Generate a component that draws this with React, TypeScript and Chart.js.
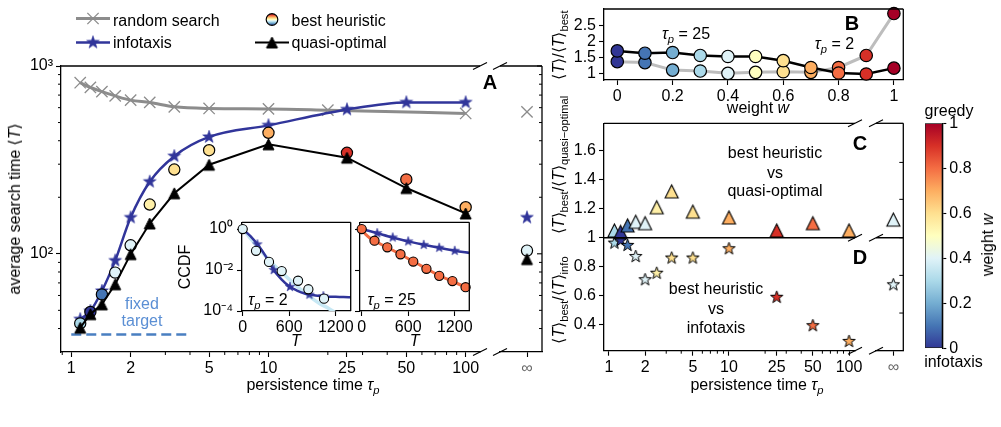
import React, { useEffect, useRef } from 'react';
import { Chart, registerables } from 'chart.js';

Chart.register(...registerables);

const FONT = '"Liberation Sans", Arial, Helvetica, sans-serif';
const FIG_W = 1001;
const FIG_H = 427;

const NAVY = '#31359a';
const GRAY = '#8c8c8c';
const FIXED_BLUE = '#4a7fc1';

// ---------- Panel A: average search time vs persistence time ----------
const TAU = [1.11, 1.25, 1.43, 1.67, 2, 2.5, 3.33, 5, 10, 25, 50, 100];
const T_INFOTAXIS = [44.8, 49.6, 63.4, 92, 156, 242, 331, 419, 483, 587, 640, 640];
const T_BEST = [42.6, 49, 60.8, 79.4, 111, 183, 281, 356, 441, 345, 249, 177];
const T_QUASI = [40.4, 47.7, 53.8, 68.8, 99.6, 145, 210, 298, 383, 325, 224, 164];
const W_BEST = [0.3, 0, 0.1, 0.4, 0.4, 0.55, 0.6, 0.6, 0.7, 0.9, 0.8, 0.7];
const TAU_RANDOM = [1.11, 1.25, 1.43, 1.67, 2, 2.5, 3.33, 5, 10, 20, 100];
const T_RANDOM = [815, 769, 730, 693, 658, 640, 606, 594, 591, 582, 559];
const FIXED_TAU = [1, 4];
const FIXED_T = [37.2, 37.2];

// infinite persistence time (drawn on its own short axis)
const INF = 0;
const T_RANDOM_INF = 570;
const T_INFOTAXIS_INF = 156;
const T_BEST_INF = 104;
const T_QUASI_INF = 93.7;
const W_BEST_INF = 0.4;

const A_X_TICKS = [1, 2, 5, 10, 25, 50, 100];
const A_X_MINOR = [0.9, 3, 4, 6, 7, 8, 9, 20, 30, 40, 60, 70, 80, 90];
const A_Y_TICKS = [100, 1000];
const A_Y_MINOR = [40, 50, 60, 70, 80, 90, 200, 300, 400, 500, 600, 700, 800, 900];

// ---------- Insets: CCDF of search time ----------
const CCDF_X_TICKS = [0, 600, 1200];
const CCDF_Y_TICKS = [1e-4, 1e-2, 1];

const CCDF2_T = [0, 100, 200, 300, 400, 500, 600, 700, 800, 900, 1000, 1100, 1200, 1300, 1400];
const CCDF2_INFO = [1, 0.45, 0.16, 0.045, 0.01, 3.5e-3, 1.6e-3, 1.0e-3, 7.1e-4, 6.0e-4, 5.4e-4, 5.0e-4, 4.9e-4, 4.8e-4, 4.7e-4];
const CCDF2_BEST_LINE = [1, 0.35, 0.126, 0.045, 0.018, 7.9e-3, 3.5e-3, 1.6e-3, 7.9e-4, 4.0e-4, 2.2e-4, 1.4e-4, 8e-5, 4.5e-5, 2.5e-5];
const CCDF2_STAR_T = [190, 400, 610, 860, 1040];
const CCDF2_STAR = [0.18, 0.01, 1.5e-3, 6.3e-4, 5.3e-4];
const CCDF2_DOT_T = [0, 172, 339, 503, 714, 847, 1049];
const CCDF2_DOT = [1, 0.087, 0.025, 8.9e-3, 3.0e-3, 1.15e-3, 4.0e-4];

const CCDF25_T = [0, 100, 200, 400, 600, 800, 1000, 1200, 1400];
const CCDF25_INFO = [1, 0.8, 0.63, 0.39, 0.25, 0.17, 0.123, 0.087, 0.068];
const CCDF25_STAR_T = [200, 400, 600, 800, 1000, 1200];
const CCDF25_STAR = [0.63, 0.39, 0.25, 0.17, 0.123, 0.087];
const CCDF25_BEST_T = [0, 50, 100, 165, 330, 500, 665, 835, 1000, 1170, 1340, 1400];
const CCDF25_BEST = [1, 0.56, 0.38, 0.27, 0.126, 0.059, 0.026, 0.0117, 5.4e-3, 2.8e-3, 1.45e-3, 1.1e-3];
const CCDF25_DOT_T = [0, 165, 330, 500, 665, 835, 1000, 1170, 1340];
const CCDF25_DOT = [1, 0.27, 0.129, 0.059, 0.026, 0.0115, 5.2e-3, 2.9e-3, 1.45e-3];

// ---------- Panel B: ratio vs weight ----------
const WEIGHTS = [0, 0.1, 0.2, 0.3, 0.4, 0.5, 0.6, 0.7, 0.8, 0.9, 1];
const RATIO_W_TAU25 = [1.71, 1.64, 1.66, 1.57, 1.54, 1.54, 1.41, 1.2, 1.03, 1.0, 1.18];
const RATIO_W_TAU2 = [1.38, 1.35, 1.12, 1.09, 1.02, 1.05, 1.07, 1.05, 1.2, 1.57, 2.86];
const B_X_TICKS = [0, 0.2, 0.4, 0.6, 0.8, 1];
const B_Y_TICKS = [1, 1.5, 2, 2.5];

// ---------- Panels C and D: best heuristic ratios ----------
const RATIO_QUASI = [1.05, 1.04, 1.085, 1.11, 1.1, 1.21, 1.32, 1.18, 1.14, 1.05, 1.1, 1.05];
const RATIO_QUASI_INF = 1.125;
const RATIO_INFO = [0.963, 0.98, 0.947, 0.87, 0.71, 0.755, 0.86, 0.86, 0.924, 0.589, 0.393, 0.284];
const RATIO_INFO_INF = 0.675;
const CD_Y_TICKS = [0.4, 0.6, 0.8, 1, 1.2, 1.4, 1.6];
const CD_INF_TICKS = [0.48, 0.74, 1.0, 1.265, 1.52];

// ---------- colour bar ----------
const CB_TICKS = [0, 0.2, 0.4, 0.6, 0.8, 1];

// RdYlBu reversed
const RDYLBU_R = ['#313695', '#4575b4', '#74add1', '#abd9e9', '#e0f3f8', '#ffffbf', '#fee090', '#fdae61', '#f46d43', '#d73027', '#a50026'];

function hexRgb(h: string): number[] {
  return [1, 3, 5].map((i) => parseInt(h.slice(i, i + 2), 16));
}
function weightColor(w: number): string {
  const t = Math.max(0, Math.min(1, w)) * (RDYLBU_R.length - 1);
  const i = Math.min(Math.floor(t), RDYLBU_R.length - 2);
  const f = t - i;
  const a = hexRgb(RDYLBU_R[i]);
  const b = hexRgb(RDYLBU_R[i + 1]);
  const c = a.map((v, k) => Math.round(v + (b[k] - v) * f));
  return `rgb(${c[0]},${c[1]},${c[2]})`;
}

// ---------- marker images ----------
const markerCache = new Map<string, HTMLCanvasElement>();
function marker(shape: 'star' | 'tri', fill: string, edge: string, size: number, lw: number): HTMLCanvasElement {
  const key = [shape, fill, edge, size, lw].join('|');
  const hit = markerCache.get(key);
  if (hit) return hit;
  const pad = Math.ceil(lw) + 2;
  const dim = Math.ceil(size) + 2 * pad;
  const c = document.createElement('canvas');
  c.width = dim;
  c.height = dim;
  const g = c.getContext('2d')!;
  const cx = dim / 2;
  const cy = dim / 2;
  const h = size / 2;
  g.beginPath();
  if (shape === 'star') {
    for (let k = 0; k < 10; k++) {
      const r = k % 2 === 0 ? h : h * 0.4;
      const a = -Math.PI / 2 + (k * Math.PI) / 5;
      const px = cx + r * Math.cos(a);
      const py = cy + r * Math.sin(a);
      if (k === 0) g.moveTo(px, py);
      else g.lineTo(px, py);
    }
  } else {
    g.moveTo(cx, cy - h);
    g.lineTo(cx + h, cy + h);
    g.lineTo(cx - h, cy + h);
  }
  g.closePath();
  g.fillStyle = fill;
  g.fill();
  if (lw > 0) {
    g.lineWidth = lw;
    g.strokeStyle = edge;
    g.lineJoin = 'miter';
    g.stroke();
  }
  markerCache.set(key, c);
  return c;
}

const pts = (xs: number[], ys: number[]) => xs.map((x, i) => ({ x, y: ys[i] }));

// ---------- layout helpers ----------
type Box = { l: number; t: number; r: number; b: number };
const A_BOX: Box = { l: 61, t: 66, r: 480, b: 352 };
const A_INF_BOX: Box = { l: 500, t: 66, r: 542, b: 352 };
const INSET2_BOX: Box = { l: 242, t: 222.3, r: 350.7, b: 311 };
const INSET25_BOX: Box = { l: 360, t: 222.3, r: 469.3, b: 311 };
const B_BOX: Box = { l: 604, t: 9, r: 903.3, b: 80 };
const CD_BOX: Box = { l: 604, t: 123.3, r: 855, b: 350.7 };
const CD_INF_BOX: Box = { l: 876, t: 123.3, r: 903.3, b: 350.7 };
const CB_BOX: Box = { l: 925, t: 123.3, r: 942.3, b: 348.3 };

function frame(box: Box, reserve: { left?: number; right?: number; bottom?: number }) {
  return {
    responsive: false,
    animation: false as const,
    devicePixelRatio: 1,
    events: [] as any[],
    layout: {
      padding: {
        left: box.l - (reserve.left ?? 0),
        top: box.t,
        right: FIG_W - box.r - (reserve.right ?? 0),
        bottom: FIG_H - box.b - (reserve.bottom ?? 0),
      },
    },
    plugins: { legend: { display: false }, tooltip: { enabled: false } },
  };
}

type AxisSpec = {
  type: 'linear' | 'logarithmic';
  min: number;
  max: number;
  ticks: number[];
  label?: (v: number) => string;
  size: number;
  position: 'left' | 'right' | 'bottom';
  tickLength?: number;
  padding?: number;
  color?: string;
};
function axis(s: AxisSpec) {
  const horizontal = s.position === 'bottom';
  return {
    type: s.type,
    min: s.min,
    max: s.max,
    bounds: 'data',
    position: s.position,
    border: { display: true, color: '#000', width: 1.3 },
    grid: { display: true, drawOnChartArea: false, drawTicks: true, tickLength: s.tickLength ?? 5, tickColor: '#000', tickWidth: 1.1 },
    ticks: {
      autoSkip: false,
      maxRotation: 0,
      minRotation: 0,
      padding: s.padding ?? 3,
      color: s.color ?? '#000',
      font: { family: FONT, size: 16 },
      callback: (v: number) => (s.label ? s.label(v) : String(v)),
    },
    afterBuildTicks: (sc: any) => {
      sc.ticks = s.ticks.map((v) => ({ value: v }));
    },
    afterFit: (sc: any) => {
      if (horizontal) {
        sc.height = s.size;
        sc.paddingLeft = 0;
        sc.paddingRight = 0;
      } else {
        sc.width = s.size;
        sc.paddingTop = 0;
        sc.paddingBottom = 0;
      }
    },
  };
}

function seg(ctx: CanvasRenderingContext2D, x1: number, y1: number, x2: number, y2: number, w = 1.3, color = '#000') {
  ctx.beginPath();
  ctx.moveTo(x1, y1);
  ctx.lineTo(x2, y2);
  ctx.lineWidth = w;
  ctx.strokeStyle = color;
  ctx.stroke();
}
function breakMark(ctx: CanvasRenderingContext2D, x: number, y: number) {
  seg(ctx, x - 7, y + 3.5, x + 7, y - 3.5, 1.2);
}
const decor = (fn: (chart: any, ctx: CanvasRenderingContext2D) => void) => ({
  id: 'decor',
  afterDraw(chart: any) {
    const ctx = chart.ctx as CanvasRenderingContext2D;
    ctx.save();
    fn(chart, ctx);
    ctx.restore();
  },
});

const SUP: Record<string, string> = { '0': '\u2070', '2': '\u00B2', '3': '\u00B3', '4': '\u2074', '-': '\u207B' };
const pow10 = (v: number) => '10' + String(Math.round(Math.log10(v))).split('').map((c) => (c === '-' ? '\u207B' : SUP[c])).join('');

// ---------- chart builders ----------
function searchTimeChart() {
  const circleColors = W_BEST.map(weightColor);
  return {
    type: 'line',
    data: {
      datasets: [
        {
          label: 'quasi-optimal', data: pts(TAU, T_QUASI), borderColor: '#000', borderWidth: 2,
          pointStyle: marker('tri', '#000', '#000', 11, 1), pointRadius: 6, tension: 0, order: 0, clip: false,
        },
        {
          label: 'best heuristic', data: pts(TAU, T_BEST), showLine: false, pointStyle: 'circle', pointRadius: 5.6,
          pointBackgroundColor: circleColors, pointBorderColor: '#000', pointBorderWidth: 1.2, order: 1, clip: false,
        },
        {
          label: 'infotaxis', data: pts(TAU, T_INFOTAXIS), borderColor: NAVY, borderWidth: 2.5,
          pointStyle: marker('star', NAVY, NAVY, 13.4, 0.6), pointRadius: 6, cubicInterpolationMode: 'monotone', order: 2, clip: false,
        },
        {
          label: 'random search', data: pts(TAU_RANDOM, T_RANDOM), borderColor: GRAY, borderWidth: 3,
          pointStyle: 'crossRot', pointRadius: 8, pointBorderColor: GRAY, pointBorderWidth: 1.3,
          cubicInterpolationMode: 'monotone', order: 3, clip: false,
        },
        {
          label: 'fixed target', data: pts(FIXED_TAU, FIXED_T), borderColor: FIXED_BLUE, borderWidth: 2.5,
          borderDash: [10, 5], pointRadius: 0, order: 4,
        },
      ],
    },
    options: {
      ...frame(A_BOX, { left: 45, bottom: 30 }),
      scales: {
        x: axis({ type: 'logarithmic', min: 0.887, max: 118.2, ticks: A_X_TICKS, size: 30, position: 'bottom', padding: 2 }),
        y: axis({ type: 'logarithmic', min: 30, max: 1000, ticks: A_Y_TICKS, label: pow10, size: 45, position: 'left' }),
      },
    },
    plugins: [
      decor((chart, ctx) => {
        const ca = chart.chartArea;
        const xs = chart.scales.x;
        const ys = chart.scales.y;
        seg(ctx, ca.left, ca.top, ca.right, ca.top);
        breakMark(ctx, ca.right, ca.top);
        breakMark(ctx, ca.right, ca.bottom);
        for (const v of A_X_MINOR) {
          const x = xs.getPixelForValue(v);
          seg(ctx, x, ca.bottom, x, ca.bottom + 3, 1);
        }
        for (const v of A_Y_MINOR) {
          const y = ys.getPixelForValue(v);
          seg(ctx, ca.left - 3, y, ca.left, y, 1);
        }
        // legend glyphs
        seg(ctx, 76, 18.5, 110, 18.5, 3, GRAY);
        const d = 8 * Math.SQRT1_2;
        seg(ctx, 93 - d, 18.5 - d, 93 + d, 18.5 + d, 1.3, GRAY);
        seg(ctx, 93 - d, 18.5 + d, 93 + d, 18.5 - d, 1.3, GRAY);
        seg(ctx, 76, 42.5, 110, 42.5, 2.5, NAVY);
        const st = marker('star', NAVY, NAVY, 13.4, 0.6);
        ctx.drawImage(st, 93 - st.width / 2, 42.5 - st.height / 2);
        const grad = ctx.createLinearGradient(0, 13.5, 0, 25.5);
        RDYLBU_R.slice().reverse().forEach((c, i) => grad.addColorStop(i / (RDYLBU_R.length - 1), c));
        ctx.beginPath();
        ctx.arc(272, 19.5, 5.8, 0, Math.PI * 2);
        ctx.fillStyle = grad;
        ctx.fill();
        ctx.lineWidth = 1.2;
        ctx.strokeStyle = '#000';
        ctx.stroke();
        seg(ctx, 255, 42.5, 289, 42.5, 2, '#000');
        const tr = marker('tri', '#000', '#000', 11, 1);
        ctx.drawImage(tr, 272 - tr.width / 2, 42.5 - tr.height / 2);
      }),
    ],
  };
}

function searchTimeInfChart() {
  return {
    type: 'scatter',
    data: {
      datasets: [
        { data: [{ x: INF, y: T_QUASI_INF }], pointStyle: marker('tri', '#000', '#000', 11, 1), pointRadius: 6, order: 0, clip: false },
        {
          data: [{ x: INF, y: T_BEST_INF }], pointStyle: 'circle', pointRadius: 5.6, pointBackgroundColor: weightColor(W_BEST_INF),
          pointBorderColor: '#000', pointBorderWidth: 1.2, order: 1, clip: false,
        },
        { data: [{ x: INF, y: T_INFOTAXIS_INF }], pointStyle: marker('star', NAVY, NAVY, 13.4, 0.6), pointRadius: 6, order: 2, clip: false },
        {
          data: [{ x: INF, y: T_RANDOM_INF }], pointStyle: 'crossRot', pointRadius: 8, pointBorderColor: GRAY,
          pointBorderWidth: 1.3, order: 3, clip: false,
        },
      ],
    },
    options: {
      ...frame(A_INF_BOX, { bottom: 30 }),
      scales: {
        x: axis({ type: 'linear', min: -1.8, max: 1, ticks: [INF], label: () => '\u221E', size: 30, position: 'bottom', padding: 2, color: '#666' }),
        y: { type: 'logarithmic', min: 30, max: 1000, display: false },
      },
    },
    plugins: [
      decor((chart, ctx) => {
        const ca = chart.chartArea;
        const ys = chart.scales.y;
        seg(ctx, ca.left, ca.top, ca.right, ca.top);
        seg(ctx, ca.right, ca.top, ca.right, ca.bottom);
        breakMark(ctx, ca.left, ca.top);
        breakMark(ctx, ca.left, ca.bottom);
        for (const v of A_Y_TICKS) {
          const y = ys.getPixelForValue(v);
          seg(ctx, ca.right - 5, y, ca.right, y, 1.1);
        }
        for (const v of A_Y_MINOR) {
          const y = ys.getPixelForValue(v);
          seg(ctx, ca.right - 3, y, ca.right, y, 1);
        }
      }),
    ],
  };
}

const boxDecor = decor((chart, ctx) => {
  const ca = chart.chartArea;
  seg(ctx, ca.left, ca.top, ca.right, ca.top);
  seg(ctx, ca.right, ca.top, ca.right, ca.bottom);
});

function ccdfTau2Chart() {
  const dot = weightColor(0.4);
  return {
    type: 'line',
    data: {
      datasets: [
        {
          data: pts(CCDF2_DOT_T, CCDF2_DOT), showLine: false, pointStyle: 'circle', pointRadius: 4.6,
          pointBackgroundColor: dot, pointBorderColor: '#000', pointBorderWidth: 1.1, order: 0, clip: false,
        },
        { data: pts(CCDF2_STAR_T, CCDF2_STAR), showLine: false, pointStyle: marker('star', NAVY, NAVY, 10, 0.5), pointRadius: 5, order: 1, clip: false },
        { data: pts(CCDF2_T, CCDF2_INFO), borderColor: NAVY, borderWidth: 2.5, pointRadius: 0, cubicInterpolationMode: 'monotone', order: 2 },
        { data: pts(CCDF2_T, CCDF2_BEST_LINE), borderColor: '#c7e8f4', borderWidth: 3.5, pointRadius: 0, cubicInterpolationMode: 'monotone', order: 3 },
      ],
    },
    options: {
      ...frame(INSET2_BOX, { left: 45, bottom: 25 }),
      scales: {
        x: axis({ type: 'linear', min: -9, max: 1393, ticks: CCDF_X_TICKS, size: 25, position: 'bottom', padding: 2 }),
        y: axis({ type: 'logarithmic', min: 1e-4, max: 2.14, ticks: CCDF_Y_TICKS, label: pow10, size: 45, position: 'left', padding: 4 }),
      },
    },
    plugins: [boxDecor],
  };
}

function ccdfTau25Chart() {
  const dot = '#f46d43';
  return {
    type: 'line',
    data: {
      datasets: [
        {
          data: pts(CCDF25_DOT_T, CCDF25_DOT), showLine: false, pointStyle: 'circle', pointRadius: 4.6,
          pointBackgroundColor: dot, pointBorderColor: '#000', pointBorderWidth: 1.1, order: 0, clip: false,
        },
        { data: pts(CCDF25_BEST_T, CCDF25_BEST), borderColor: '#f26b43', borderWidth: 3, pointRadius: 0, cubicInterpolationMode: 'monotone', order: 1 },
        { data: pts(CCDF25_STAR_T, CCDF25_STAR), showLine: false, pointStyle: marker('star', NAVY, NAVY, 10, 0.5), pointRadius: 5, order: 2, clip: false },
        { data: pts(CCDF25_T, CCDF25_INFO), borderColor: NAVY, borderWidth: 2.5, pointRadius: 0, cubicInterpolationMode: 'monotone', order: 3 },
      ],
    },
    options: {
      ...frame(INSET25_BOX, { left: 5, bottom: 25 }),
      scales: {
        x: axis({ type: 'linear', min: -22, max: 1388, ticks: CCDF_X_TICKS, size: 25, position: 'bottom', padding: 2 }),
        y: axis({ type: 'logarithmic', min: 1e-4, max: 2.14, ticks: CCDF_Y_TICKS, label: () => '', size: 5, position: 'left', padding: 0 }),
      },
    },
    plugins: [boxDecor],
  };
}

function weightChart() {
  const colors = WEIGHTS.map(weightColor);
  const dots = (ys: number[], order: number) => ({
    data: pts(WEIGHTS, ys), showLine: false, pointStyle: 'circle', pointRadius: 6.2, pointBackgroundColor: colors,
    pointBorderColor: '#000', pointBorderWidth: 1.2, order, clip: false,
  });
  return {
    type: 'line',
    data: {
      datasets: [
        dots(RATIO_W_TAU25, 0),
        dots(RATIO_W_TAU2, 1),
        { data: pts(WEIGHTS, RATIO_W_TAU25), borderColor: '#000', borderWidth: 2.5, pointRadius: 0, order: 2, clip: false },
        { data: pts(WEIGHTS, RATIO_W_TAU2), borderColor: '#bdbdbd', borderWidth: 3, pointRadius: 0, order: 3, clip: false },
      ],
    },
    options: {
      ...frame(B_BOX, { left: 45, bottom: 30 }),
      scales: {
        x: axis({ type: 'linear', min: -0.048, max: 1.034, ticks: B_X_TICKS, size: 30, position: 'bottom', padding: 2 }),
        y: axis({ type: 'linear', min: 0.815, max: 3.0, ticks: B_Y_TICKS, size: 45, position: 'left' }),
      },
    },
    plugins: [boxDecor],
  };
}

function ratioDatasets(xs: number[], quasi: number[], info: number[], w: number[]) {
  return [
    {
      data: pts(xs, quasi), showLine: false, order: 0, clip: false, pointRadius: 7,
      pointStyle: w.map((v) => marker('tri', weightColor(v), '#000', 13, 1.1)),
    },
    {
      data: pts(xs, info), showLine: false, order: 1, clip: false, pointRadius: 7,
      pointStyle: w.map((v) => marker('star', weightColor(v), '#000', 13, 1)),
    },
  ];
}

function ratioChart() {
  return {
    type: 'scatter',
    data: { datasets: ratioDatasets(TAU, RATIO_QUASI, RATIO_INFO, W_BEST) },
    options: {
      ...frame(CD_BOX, { left: 45, bottom: 30 }),
      scales: {
        x: axis({ type: 'logarithmic', min: 0.909, max: 112.2, ticks: A_X_TICKS, size: 30, position: 'bottom', padding: 2 }),
        y: axis({ type: 'linear', min: 0.22, max: 1.79, ticks: CD_Y_TICKS, size: 45, position: 'left' }),
      },
    },
    plugins: [
      decor((chart, ctx) => {
        const ca = chart.chartArea;
        const xs = chart.scales.x;
        const y1 = chart.scales.y.getPixelForValue(1);
        seg(ctx, ca.left, ca.top, ca.right, ca.top);
        seg(ctx, ca.left, y1, ca.right, y1, 1.5);
        breakMark(ctx, ca.right, ca.top);
        breakMark(ctx, ca.right, y1);
        breakMark(ctx, ca.right, ca.bottom);
        for (const v of A_X_MINOR) {
          const x = xs.getPixelForValue(v);
          if (x >= ca.left) seg(ctx, x, ca.bottom, x, ca.bottom + 3, 1);
        }
      }),
    ],
  };
}

function ratioInfChart() {
  return {
    type: 'scatter',
    data: { datasets: ratioDatasets([INF], [RATIO_QUASI_INF], [RATIO_INFO_INF], [W_BEST_INF]) },
    options: {
      ...frame(CD_INF_BOX, { bottom: 30 }),
      scales: {
        x: axis({ type: 'linear', min: -1.75, max: 1, ticks: [INF], label: () => '\u221E', size: 30, position: 'bottom', padding: 2, color: '#666' }),
        y: { type: 'linear', min: 0.22, max: 1.79, display: false },
      },
    },
    plugins: [
      decor((chart, ctx) => {
        const ca = chart.chartArea;
        const ys = chart.scales.y;
        const y1 = ys.getPixelForValue(1);
        seg(ctx, ca.left, ca.top, ca.right, ca.top);
        seg(ctx, ca.right, ca.top, ca.right, ca.bottom);
        seg(ctx, ca.left, y1, ca.right, y1, 1.5);
        breakMark(ctx, ca.left, ca.top);
        breakMark(ctx, ca.left, y1);
        breakMark(ctx, ca.left, ca.bottom);
        for (const v of CD_INF_TICKS) {
          const y = ys.getPixelForValue(v);
          seg(ctx, ca.right - 4, y, ca.right, y, 1);
        }
      }),
    ],
  };
}

function colorbarChart() {
  return {
    type: 'bar',
    data: {
      labels: ['w'],
      datasets: [
        {
          data: [[0, 1]],
          barPercentage: 1,
          categoryPercentage: 1,
          borderWidth: 1,
          borderColor: '#222',
          borderSkipped: false,
          backgroundColor: (c: any) => {
            const area = c.chart.chartArea;
            if (!area) return RDYLBU_R[5];
            const g = c.chart.ctx.createLinearGradient(0, area.bottom, 0, area.top);
            RDYLBU_R.forEach((col, i) => g.addColorStop(i / (RDYLBU_R.length - 1), col));
            return g;
          },
        },
      ],
    },
    options: {
      ...frame(CB_BOX, { right: 40 }),
      scales: {
        x: { type: 'category', display: false },
        y: axis({ type: 'linear', min: 0, max: 1, ticks: CB_TICKS, size: 40, position: 'right', tickLength: 4, padding: 3 }),
      },
    },
  };
}

// ---------- components ----------
function ChartLayer({ build }: { build: () => any }) {
  const ref = useRef<HTMLCanvasElement | null>(null);
  useEffect(() => {
    if (!ref.current) return;
    const chart = new Chart(ref.current, build());
    return () => chart.destroy();
  }, [build]);
  return (
    <canvas
      ref={ref}
      width={FIG_W}
      height={FIG_H}
      style={{ position: 'absolute', left: 0, top: 0, width: FIG_W, height: FIG_H }}
    />
  );
}

type TxtProps = {
  x: number;
  y: number;
  children: React.ReactNode;
  size?: number;
  rot?: number;
  anchor?: 'left' | 'center';
  bold?: boolean;
  color?: string;
};
function Txt({ x, y, children, size = 16, rot = 0, anchor = 'center', bold = false, color = '#000' }: TxtProps) {
  const tx = anchor === 'left' ? '0' : '-50%';
  return (
    <div
      style={{
        position: 'absolute',
        left: x,
        top: y,
        transform: `translate(${tx},-50%)` + (rot ? ` rotate(${rot}deg)` : ''),
        fontFamily: FONT,
        fontSize: size,
        fontWeight: bold ? 'bold' : 'normal',
        color,
        whiteSpace: 'nowrap',
        lineHeight: 1,
      }}
    >
      {children}
    </div>
  );
}
const Sub = ({ children }: { children: React.ReactNode }) => (
  <span style={{ fontSize: '0.7em', position: 'relative', top: '0.32em' }}>{children}</span>
);
const TauP = () => (
  <>
    <i>τ</i>
    <Sub>
      <i>p</i>
    </Sub>
  </>
);
const Avg = ({ sub }: { sub?: string }) => (
  <>
    ⟨<i>T</i>⟩{sub ? <Sub>{sub}</Sub> : null}
  </>
);

export default function App() {
  return (
    <div style={{ position: 'absolute', left: 0, top: 0, width: FIG_W, height: FIG_H, background: '#fff', overflow: 'hidden' }}>
      <ChartLayer build={searchTimeChart} />
      <ChartLayer build={searchTimeInfChart} />
      <ChartLayer build={ccdfTau2Chart} />
      <ChartLayer build={ccdfTau25Chart} />
      <ChartLayer build={weightChart} />
      <ChartLayer build={ratioChart} />
      <ChartLayer build={ratioInfChart} />
      <ChartLayer build={colorbarChart} />

      {/* legend */}
      <Txt x={113} y={20.5} anchor="left">random search</Txt>
      <Txt x={113} y={42.8} anchor="left">infotaxis</Txt>
      <Txt x={291.5} y={20.5} anchor="left">best heuristic</Txt>
      <Txt x={291.5} y={42.8} anchor="left">quasi-optimal</Txt>

      {/* panel A */}
      <Txt x={490} y={82} size={20} bold>A</Txt>
      <Txt x={15} y={209} rot={-90}>
        average search time <Avg />
      </Txt>
      <Txt x={313} y={385}>
        persistence time <TauP />
      </Txt>
      <Txt x={142} y={304} color="#5b8fd4">fixed</Txt>
      <Txt x={142} y={321} color="#5b8fd4">target</Txt>
      <Txt x={185} y={267} rot={-90}>CCDF</Txt>
      <Txt x={296} y={341}>
        <i>T</i>
      </Txt>
      <Txt x={414.6} y={341}>
        <i>T</i>
      </Txt>
      <Txt x={268} y={300}>
        <TauP /> = 2
      </Txt>
      <Txt x={391.7} y={300}>
        <TauP /> = 25
      </Txt>

      {/* panel B */}
      <Txt x={852} y={23} size={20} bold>B</Txt>
      <Txt x={686} y={34}>
        <TauP /> = 25
      </Txt>
      <Txt x={834.5} y={44.3}>
        <TauP /> = 2
      </Txt>
      <Txt x={559} y={45} rot={-90}>
        <Avg />/<Avg sub="best" />
      </Txt>
      <Txt x={758} y={108}>
        weight <i>w</i>
      </Txt>

      {/* panels C and D */}
      <Txt x={860} y={143} size={20} bold>C</Txt>
      <Txt x={860} y={257} size={20} bold>D</Txt>
      <Txt x={775} y={153}>best heuristic</Txt>
      <Txt x={775} y={172.5}>vs</Txt>
      <Txt x={775} y={191}>quasi-optimal</Txt>
      <Txt x={716} y={289}>best heuristic</Txt>
      <Txt x={716} y={308.5}>vs</Txt>
      <Txt x={716} y={328}>infotaxis</Txt>
      <Txt x={559} y={165} rot={-90}>
        <Avg sub="best" />/<Avg sub={'quasi\u2212optimal'} />
      </Txt>
      <Txt x={559} y={300} rot={-90}>
        <Avg sub="best" />/<Avg sub="info" />
      </Txt>
      <Txt x={757} y={385}>
        persistence time <TauP />
      </Txt>

      {/* colour bar */}
      <Txt x={949} y={111}>greedy</Txt>
      <Txt x={953.5} y={362}>infotaxis</Txt>
      <Txt x={988} y={245} rot={-90}>
        weight <i>w</i>
      </Txt>
    </div>
  );
}
